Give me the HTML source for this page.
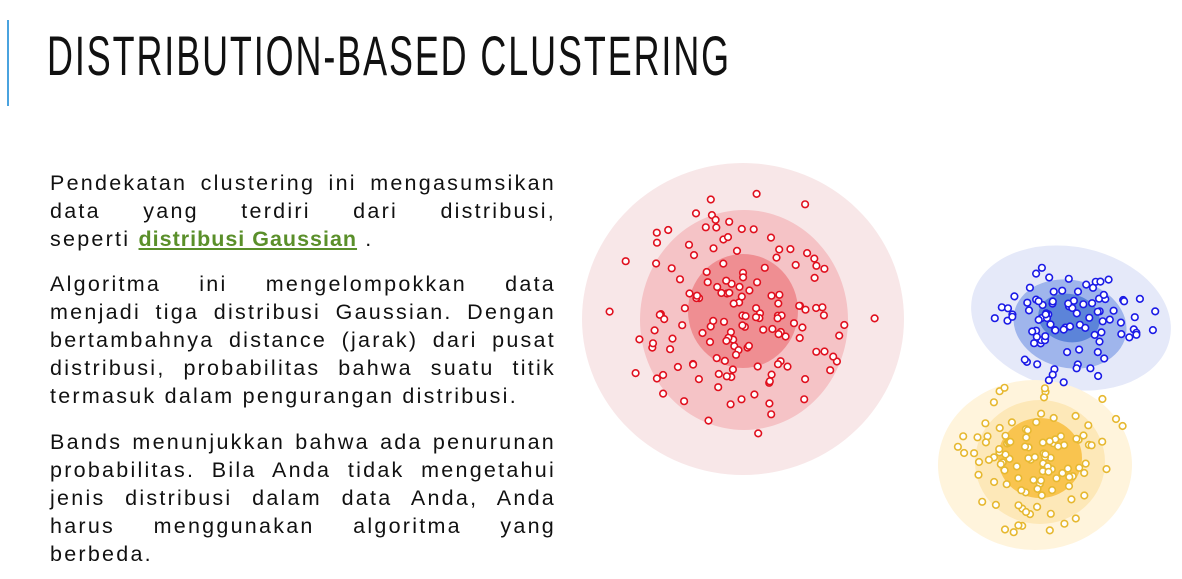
<!DOCTYPE html>
<html><head><meta charset="utf-8"><style>
html,body{margin:0;padding:0;background:#fff;width:1182px;height:579px;overflow:hidden;position:relative;font-family:"Liberation Sans",sans-serif}
.bar{position:absolute;left:7px;top:20px;width:2px;height:86px;background:#4aa3df}
.title{position:absolute;left:47px;top:26px;font-family:"Liberation Sans",sans-serif;font-size:56px;letter-spacing:3px;color:#111;line-height:60px;white-space:nowrap;transform:scaleX(0.641);transform-origin:left top}
.txt{position:absolute;left:50px;width:506px;font-size:21.5px;letter-spacing:2.25px;color:#111;line-height:28px}
.j{text-align:justify;text-align-last:justify;white-space:nowrap}
.l{white-space:nowrap}
a{color:#5a8f2a;font-weight:bold;text-decoration:underline;letter-spacing:1px}
svg{position:absolute;left:0;top:0}
</style></head><body>
<div class="bar"></div>
<div class="title">DISTRIBUTION-BASED CLUSTERING</div>
<div class="txt" style="top:169px">
<div class="j">Pendekatan clustering ini mengasumsikan</div>
<div class="j">data yang terdiri dari distribusi,</div>
<div class="l">seperti <a>distribusi Gaussian</a> .</div>
</div>
<div class="txt" style="top:270px">
<div class="j">Algoritma ini mengelompokkan data</div>
<div class="j">menjadi tiga distribusi Gaussian. Dengan</div>
<div class="j">bertambahnya distance (jarak) dari pusat</div>
<div class="j">distribusi, probabilitas bahwa suatu titik</div>
<div class="l">termasuk dalam pengurangan distribusi.</div>
</div>
<div class="txt" style="top:428px">
<div class="j">Bands menunjukkan bahwa ada penurunan</div>
<div class="j">probabilitas. Bila Anda tidak mengetahui</div>
<div class="j">jenis distribusi dalam data Anda, Anda</div>
<div class="j">harus menggunakan algoritma yang</div>
<div class="l">berbeda.</div>
</div>
<svg id="s" width="1182" height="579" xmlns="http://www.w3.org/2000/svg">
<ellipse cx="743" cy="319" rx="161" ry="156" fill="#f8e7e8"/>
<ellipse cx="744" cy="320" rx="104" ry="110" fill="#f5c3c6"/>
<ellipse cx="743" cy="311" rx="55" ry="57" fill="#ef8e92"/>
<ellipse cx="1071" cy="318" rx="101" ry="71" fill="#e5e9f9" transform="rotate(12 1071 318)"/>
<ellipse cx="1070" cy="324" rx="57" ry="44" fill="#9fb5ec" transform="rotate(12 1070 324)"/>
<ellipse cx="1069" cy="318" rx="31" ry="24" fill="#5c84d9" transform="rotate(12 1069 318)"/>
<ellipse cx="1035" cy="465" rx="97" ry="85" fill="#fff4dc"/>
<ellipse cx="1040" cy="462" rx="65" ry="62" fill="#fde8b8"/>
<ellipse cx="1040" cy="458" rx="42" ry="40" fill="#f9c44f"/>
<g id="d" fill="#fff" stroke-width="1.6"></g>
</svg>
<script>
var seed=11;function r(){seed=(seed*16807)%2147483647;return seed/2147483647;}
function g(){var u=r()||1e-6,v=r();return Math.sqrt(-2*Math.log(u))*Math.cos(6.283*v);}
var d=document.getElementById('d'),h='';
function add(n,cx,cy,sx,sy,col,ex,ey){for(var i=0;i<n;i++){var x=cx+g()*sx,y=cy+g()*sy;var q=((x-cx)/ex)*((x-cx)/ex)+((y-cy)/ey)*((y-cy)/ey);if(q>1){i--;continue;}h+='<circle cx="'+x.toFixed(1)+'" cy="'+y.toFixed(1)+'" r="3.3" stroke="'+col+'"/>';}}
add(150,742,318,62,62,'#e0101e',135,130);
add(95,1068,322,42,26,'#1a1ae6',92,62);
add(110,1040,462,40,40,'#e6b830',95,88);
d.innerHTML=h;
</script>
</body></html>
